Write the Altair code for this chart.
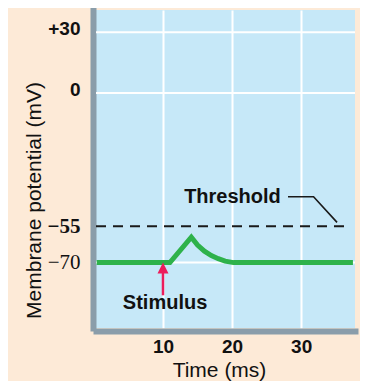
import altair as alt
import pandas as pd

# ---- data ----
time_ms = [0.4, 11.0, 14.1, 15.0, 16.0, 17.0, 18.0, 19.0, 20.2, 37.5]
potential_mV = [-70, -70, -59.5, -62.8, -65.3, -67.1, -68.4, -69.4, -70, -70]

y_ticks = [30, 0, -55, -70]
x_ticks = [10, 20, 30]
grid_mV = [30, 0, -70]

threshold_mV = -55
threshold_t = [0.3, 36.7]

leader_t = [28.1, 31.8, 35.2]
leader_v = [-42.8, -42.8, -53.4]

stimulus_t = 10.0
arrow_tip_v = -70
arrow_shaft_v = [-73.8, -83.5]

label_text = ["Threshold", "Stimulus"]
label_t = [20.06, 10.3]
label_v = [-45.4, -89.2]

# ---- tables ----
curve = pd.DataFrame({"t": time_ms, "v": potential_mV})
grid = pd.DataFrame({"v": grid_mV})
thr = pd.DataFrame({"t": [threshold_t[0]], "t2": [threshold_t[1]], "v": [threshold_mV]})
leader = pd.DataFrame({"t": leader_t, "v": leader_v, "o": [0, 1, 2]})
shaft = pd.DataFrame({"t": [stimulus_t], "v": [arrow_shaft_v[0]], "v2": [arrow_shaft_v[1]]})
head = pd.DataFrame({"t": [stimulus_t], "v": [arrow_tip_v]})
labels = pd.DataFrame({"text": label_text, "t": label_t, "v": label_v})

FRAME = "#8A9DAA"
INK = "#111111"

xscale = alt.Scale(domain=[0.3, 37.8], nice=False, zero=False)
yscale = alt.Scale(domain=[-97, 0, 41], range=[318, 83, 0], nice=False, zero=False)

xaxis = alt.Axis(
    values=x_ticks, title="Time (ms)", grid=True, gridColor="white", gridWidth=2,
    ticks=False, tickSize=0, domainColor=FRAME, domainWidth=6, domainCap="square", offset=3,
    labelFont="Liberation Sans", labelFontWeight="bold", labelFontSize=19, labelColor=INK,
    labelPadding=6, titleFont="Liberation Sans", titleFontWeight="normal", titleFontSize=21,
    titleColor=INK, titlePadding=3, titleX=123,
)
yaxis = alt.Axis(
    values=y_ticks, title="Membrane potential (mV)", grid=False,
    ticks=False, tickSize=0, domainColor=FRAME, domainWidth=6, domainCap="square", offset=3,
    labelExpr="datum.value > 0 ? '+' + datum.value : (datum.value < 0 ? '\u2212' + (-datum.value) : '0')",
    labelFont={"condition": {"test": "datum.value < 0", "value": "Liberation Serif"}, "value": "Liberation Sans"},
    labelFontWeight={"condition": {"test": "datum.value == -70", "value": "normal"}, "value": "bold"},
    labelFontSize={"condition": {"test": "datum.value < 0", "value": 21}, "value": 19},
    labelOffset={"condition": {"test": "datum.value >= 0", "value": -4}, "value": 0},
    labelColor=INK, labelPadding=13,
    titleFont="Liberation Sans", titleFontWeight="normal", titleFontSize=21, titleColor=INK,
    titlePadding=3, titleY=190,
)

X = alt.X("t:Q", scale=xscale, axis=xaxis)
Y = alt.Y("v:Q", scale=yscale, axis=yaxis)

grid_layer = alt.Chart(grid).mark_rule(color="white", strokeWidth=2).encode(y=Y)

thr_layer = alt.Chart(thr).mark_rule(color="#1a1a1a", strokeWidth=2, strokeDash=[10, 7]).encode(
    x=X, x2=alt.X2("t2"), y=Y
)

leader_layer = alt.Chart(leader).mark_line(color="#1a1a1a", strokeWidth=1.6).encode(
    x=X, y=Y, order="o:Q"
)

curve_layer = alt.Chart(curve).mark_line(
    color="#2EB24B", strokeWidth=5, strokeJoin="miter", strokeCap="butt"
).encode(x=X, y=Y)

shaft_layer = alt.Chart(shaft).mark_rule(color="#EC1C5B", strokeWidth=2.5).encode(
    x=X, y=Y, y2=alt.Y2("v2")
)

head_layer = alt.Chart(head).mark_point(
    shape="M0,0L1,2L-1,2Z", size=121, filled=True, color="#EC1C5B", opacity=1, strokeWidth=0
).encode(x=X, y=Y)

text_layer = alt.Chart(labels).mark_text(
    font="Liberation Sans", fontWeight="bold", fontSize=20, color=INK,
    align="center", baseline="alphabetic"
).encode(x=X, y=Y, text="text:N")

chart = alt.layer(
    grid_layer, thr_layer, leader_layer, curve_layer, shaft_layer, head_layer, text_layer
).properties(
    width=259, height=318,
    autosize=alt.AutoSizeParams(type="none"),
    padding={"left": 88, "top": 2, "right": 5, "bottom": 53},
    background="#FDEAD7",
).configure_view(fill="#C6E8F8", stroke=None)

chart.save("out.html", embed_options={"renderer": "svg", "actions": False})
